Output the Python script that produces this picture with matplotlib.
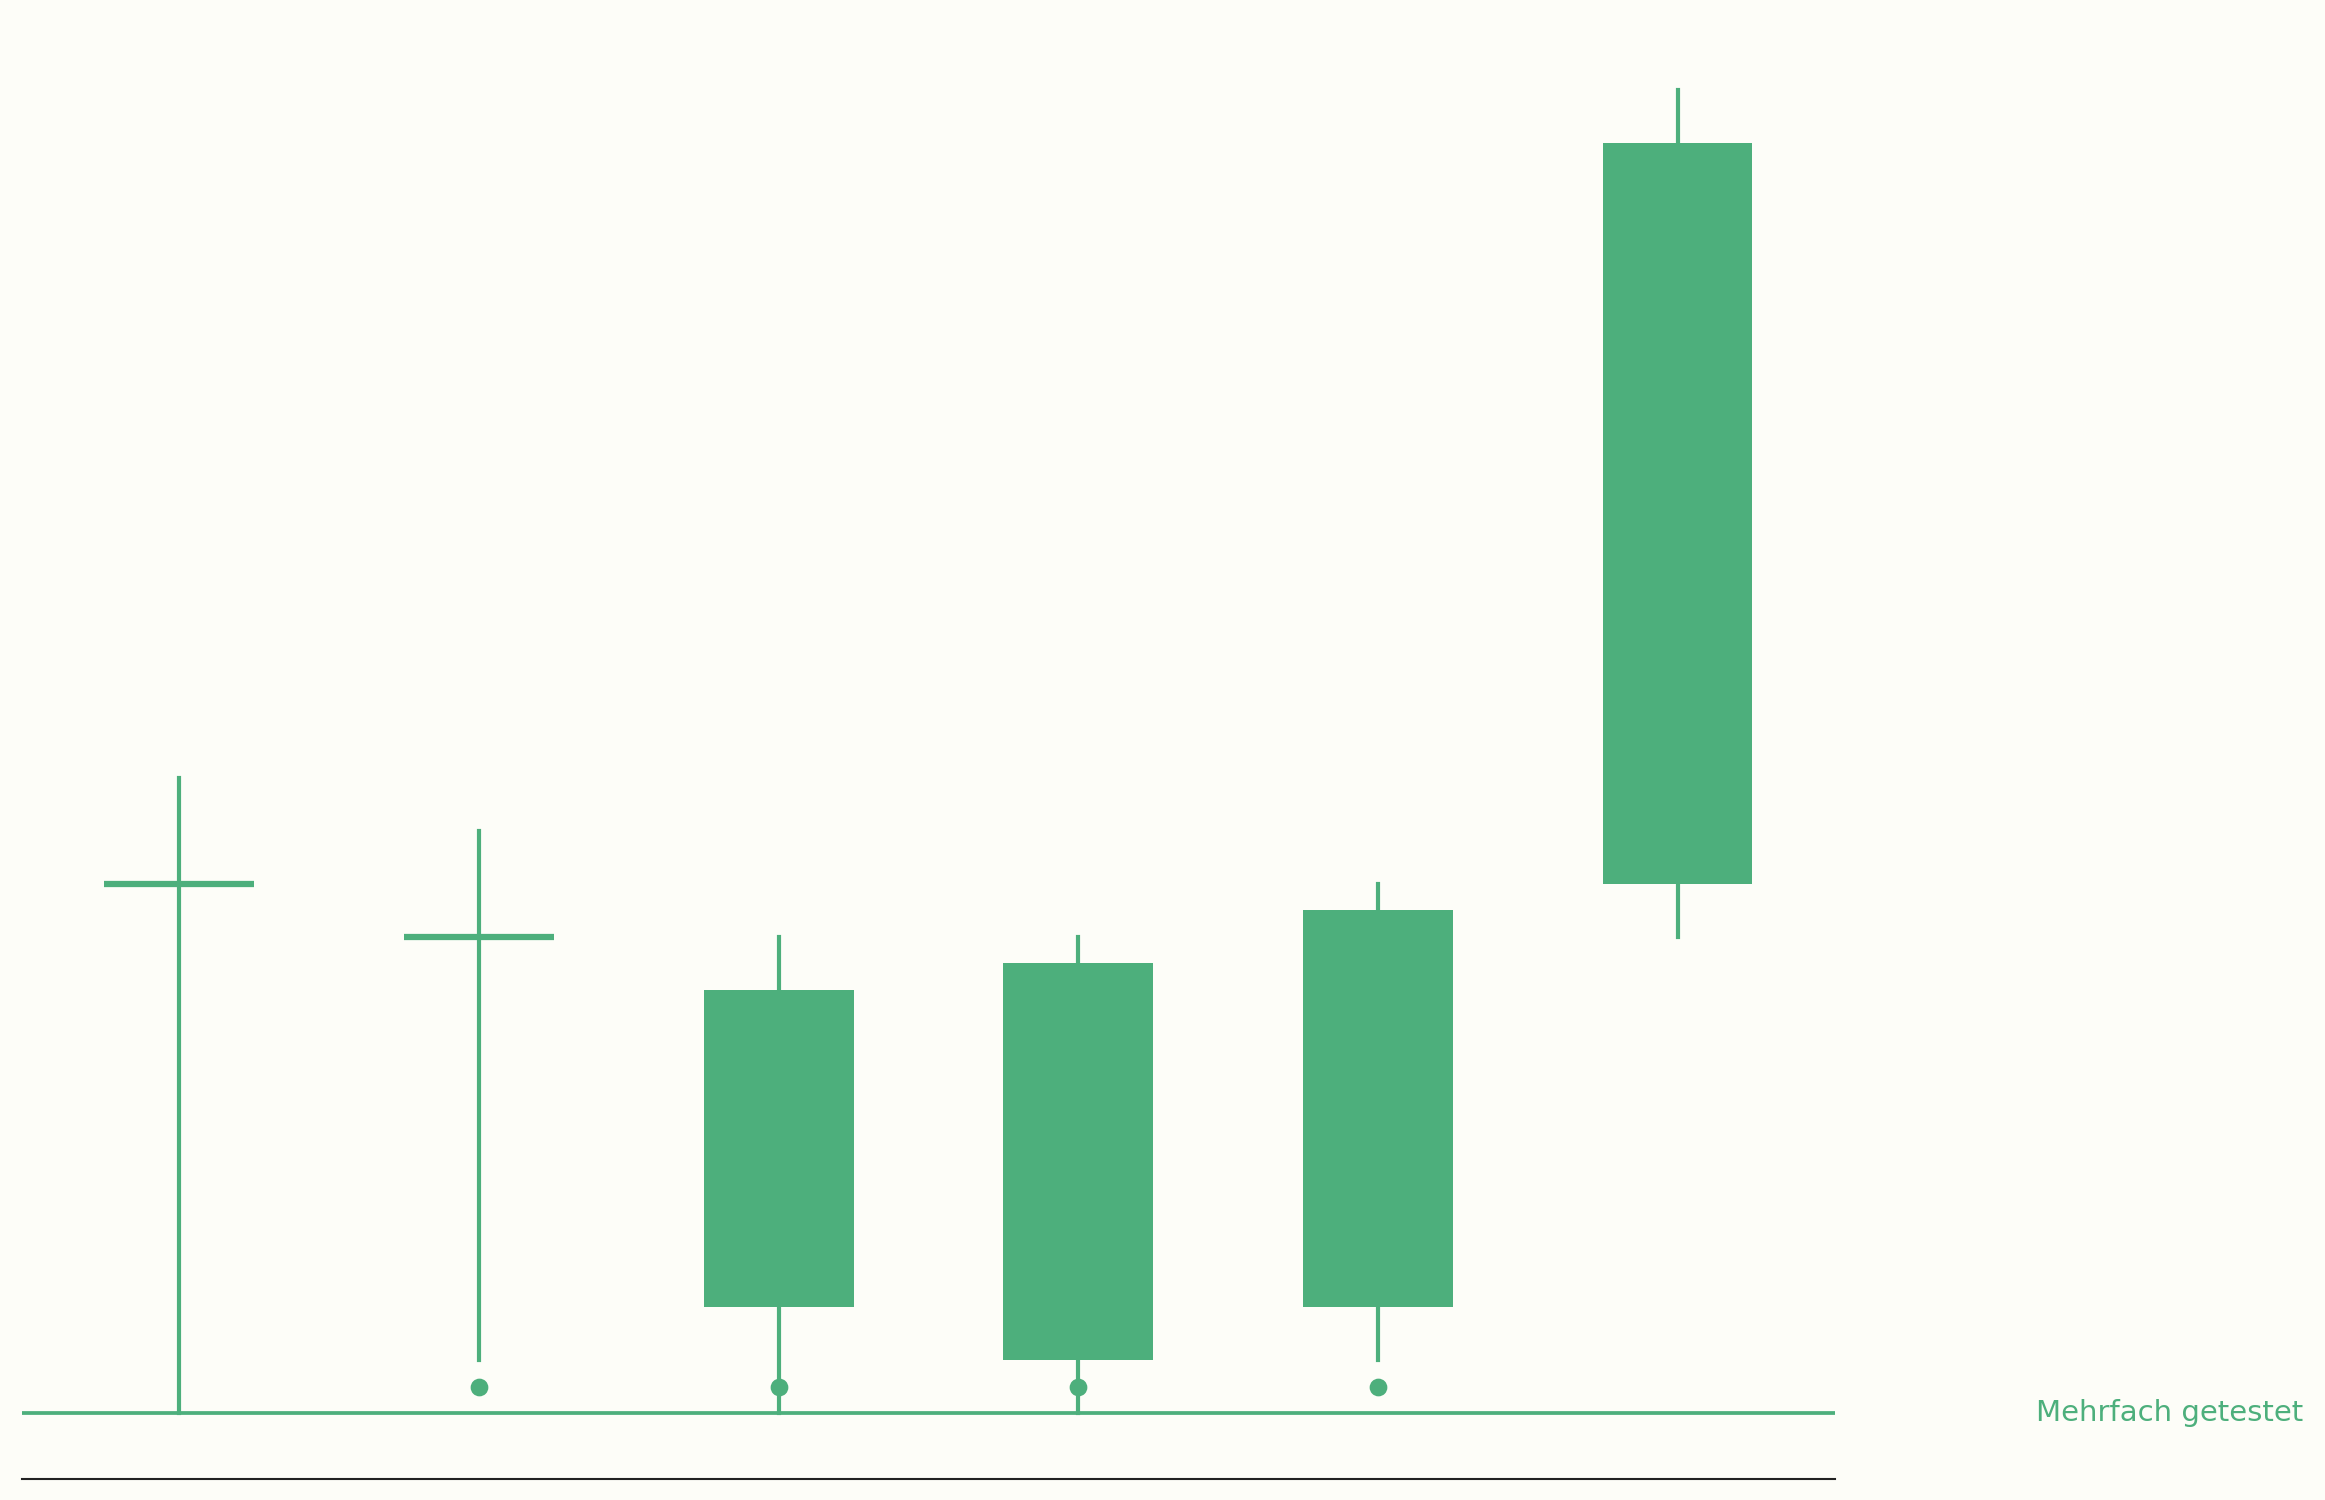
import numpy as np
import matplotlib
matplotlib.use("Agg")
import matplotlib.pyplot as plt
import matplotlib.transforms as mtransforms

# --- data ---
positions = [0, 1, 2, 3, 4, 5]
whislo = [0, 2, 0, 0, 2, 18]
q1     = [20, 18, 4, 2, 4, 20]
med    = [20, 18, 10, 10, 12, 34]
q3     = [20, 18, 16, 17, 19, 48]
whishi = [24, 22, 18, 18, 20, 50]
fliers = [[], [1], [1], [1], [1], []]
ref_value = 0
ref_label = "Mehrfach getestet"

green = "#4daf7c"
bg = "#fdfdf8"

stats = []
for i in range(len(positions)):
    stats.append(dict(whislo=whislo[i], q1=q1[i], med=med[i], q3=q3[i],
                      whishi=whishi[i], fliers=fliers[i]))

fig = plt.figure(figsize=(15.5, 10), dpi=150, facecolor=bg)
ax = fig.add_axes([0.0095, 0.0137, 0.7797, 0.9706])
ax.set_facecolor(bg)

ax.bxp(stats, positions=positions, widths=0.5, patch_artist=True,
       showcaps=False,
       boxprops=dict(facecolor=green, edgecolor=green, linewidth=0),
       whiskerprops=dict(color=green, linewidth=2),
       medianprops=dict(color=green, linewidth=3),
       flierprops=dict(marker="o", markerfacecolor=green, markeredgecolor=green,
                       markersize=7.5))

ax.axhline(ref_value, color=green, linewidth=1.8, zorder=1)

# label for the reference line, out in the right margin
trans = mtransforms.blended_transform_factory(fig.transFigure, ax.transData)
ax.text(0.9905, ref_value, ref_label, transform=trans, ha="right", va="center",
        color=green, fontsize=14)

ax.set_xlim(-0.525, 5.525)
ax.set_ylim(-2.5, 52.5)
for s in ["top", "right", "left"]:
    ax.spines[s].set_visible(False)
ax.spines["bottom"].set_color("#222222")
ax.spines["bottom"].set_linewidth(1)
ax.set_xticks([])
ax.set_yticks([])

fig.savefig("out.png", dpi=150, facecolor=bg)
